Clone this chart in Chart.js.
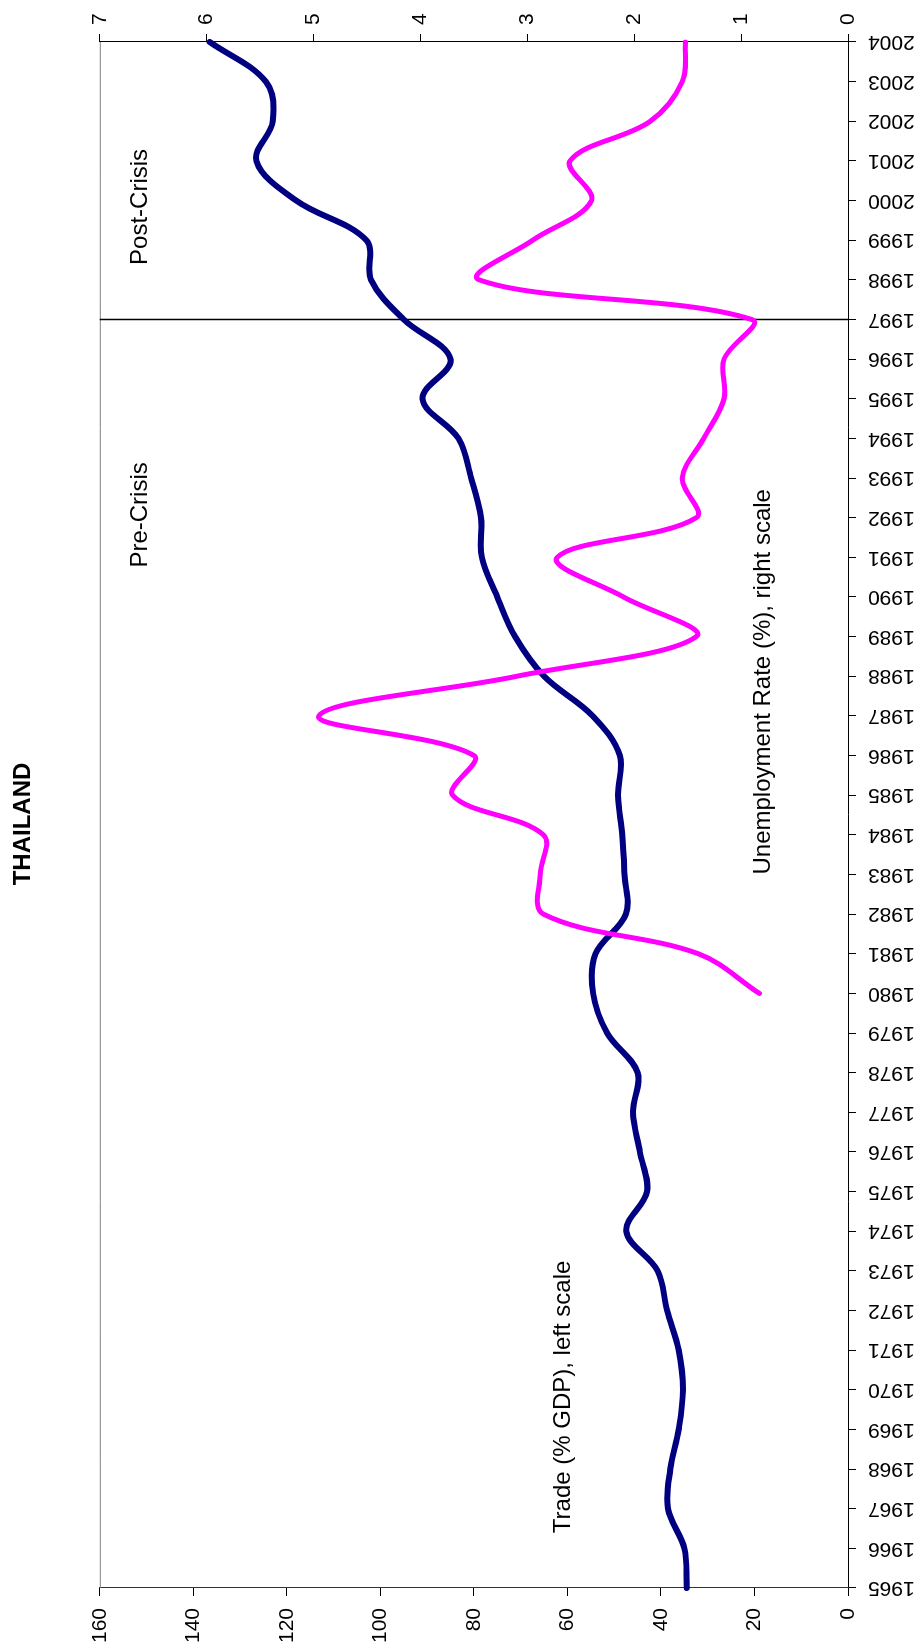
<!DOCTYPE html>
<html>
<head>
<meta charset="utf-8">
<title>Thailand: trade and unemployment</title>
<script src="https://cdn.jsdelivr.net/npm/chart.js@4.4.1/dist/chart.umd.min.js"></script>
<style>
  html, body { margin: 0; padding: 0; background: #fff; overflow: hidden; width: 921px; height: 1648px; }
  /* the chart is laid out landscape and turned a quarter turn to stand upright on the page */
  #frame {
    position: absolute; left: 0; top: 0;
    width: 1648px; height: 921px;
    transform-origin: 0 0;
    transform: translate(0, 1648px) rotate(-90deg);
  }
</style>
</head>
<body>
<div id="frame"><canvas id="chart" width="1648" height="921"></canvas></div>
<script>
// ---- data ----
const years = ['1965','1966','1967','1968','1969','1970','1971','1972','1973','1974',
               '1975','1976','1977','1978','1979','1980','1981','1982','1983','1984',
               '1985','1986','1987','1988','1989','1990','1991','1992','1993','1994',
               '1995','1996','1997','1998','1999','2000','2001','2002','2003','2004'];

// Trade, % of GDP (left scale)
const tradeShare = [34.5, 35.0, 38.5, 38.0, 36.2, 35.3, 36.2, 38.7, 40.7, 47.4,
                    43.0, 44.5, 46.0, 45.0, 51.5, 54.5, 54.0, 47.5, 47.8, 48.3,
                    49.2, 48.8, 54.6, 65.0, 71.2, 75.0, 78.3, 78.5, 80.6, 83.3,
                    91.0, 85.0, 95.0, 102.0, 103.0, 118.0, 126.5, 123.0, 124.5, 136.5];

// Unemployment rate, % (right scale); series begins in 1980
const unemploymentRate = [null, null, null, null, null, null, null, null, null, null,
                          null, null, null, null, null, 0.83, 1.40, 2.85, 2.88, 2.85,
                          3.70, 3.50, 4.95, 3.10, 1.42, 2.10, 2.72, 1.42, 1.55, 1.35,
                          1.16, 1.16, 0.90, 3.45, 2.95, 2.40, 2.60, 1.85, 1.55, 1.52];

const leftScale = { min: 0, max: 160, step: 20 };
const rightScale = { min: 0, max: 7, step: 1 };
const crisisYear = '1997';

// text placed inside the plot: year position, left-scale value for the baseline
const notes = [
  { text: 'Pre-Crisis', year: 1992.07, value: 150 },
  { text: 'Post-Crisis', year: 1999.84, value: 150 },
  { text: 'Unemployment Rate (%), right scale', year: 1987.86, value: 16.7 },
  { text: 'Trade (% GDP), left scale', year: 1969.82, value: 59.5 }
];

const FONT = "'Liberation Sans', Arial, sans-serif";

// ---- frame, crisis marker and in-plot labels ----
const decorations = {
  id: 'decorations',
  beforeDatasetsDraw(chart) {
    const { ctx, chartArea: a, scales } = chart;
    const x = scales.x;
    ctx.save();
    // upper edge of the plot area
    ctx.strokeStyle = '#808080';
    ctx.lineWidth = 1;
    ctx.beginPath();
    ctx.moveTo(a.left, a.top + 0.5);
    ctx.lineTo(a.right, a.top + 0.5);
    ctx.stroke();
    // crisis divider
    const cx = x.getPixelForValue(years.indexOf(crisisYear));
    ctx.strokeStyle = '#000';
    ctx.lineWidth = 1.5;
    ctx.beginPath();
    ctx.moveTo(cx, a.top);
    ctx.lineTo(cx, a.bottom);
    ctx.stroke();
    // labels
    ctx.fillStyle = '#000';
    ctx.font = '24px ' + FONT;
    ctx.textAlign = 'center';
    ctx.textBaseline = 'alphabetic';
    const first = Number(years[0]);
    notes.forEach(n => {
      const px = x.getPixelForValue(n.year - first);
      const py = scales.y.getPixelForValue(n.value);
      ctx.fillText(n.text, px, py);
    });
    ctx.restore();
  }
};

const tickFont = { family: FONT, size: 21 };

new Chart(document.getElementById('chart'), {
  type: 'line',
  data: {
    labels: years,
    datasets: [
      {
        label: 'Unemployment Rate (%)',
        data: unemploymentRate,
        yAxisID: 'y1',
        borderColor: '#FF00FF',
        borderWidth: 5,
        tension: 0.36,
        pointRadius: 0,
        borderCapStyle: 'round',
        borderJoinStyle: 'round',
        fill: false,
        order: 1
      },
      {
        label: 'Trade (% GDP)',
        data: tradeShare,
        yAxisID: 'y',
        borderColor: '#000080',
        borderWidth: 6,
        tension: 0.36,
        pointRadius: 0,
        borderCapStyle: 'round',
        borderJoinStyle: 'round',
        fill: false,
        order: 2
      }
    ]
  },
  options: {
    responsive: false,
    devicePixelRatio: 1,
    animation: false,
    layout: { padding: 0 },
    plugins: {
      legend: { display: false },
      tooltip: { enabled: false },
      title: {
        display: true,
        text: 'THAILAND',
        color: '#000',
        font: { family: FONT, size: 24, weight: 'bold', lineHeight: 1.2 },
        padding: { top: 9, bottom: 62 }
      }
    },
    scales: {
      x: {
        type: 'category',
        offset: false,
        grid: { drawOnChartArea: false, drawTicks: true, tickLength: 8, tickColor: '#000' },
        border: { display: true, color: '#000', width: 1 },
        ticks: {
          autoSkip: false, minRotation: 90, maxRotation: 90,
          padding: 12, color: '#000', font: tickFont
        },
        afterFit(s) { s.height = 73; }
      },
      y: {
        position: 'left',
        min: leftScale.min, max: leftScale.max,
        grid: { drawOnChartArea: false, drawTicks: true, tickLength: 8, tickColor: '#000' },
        border: { display: true, color: '#333', width: 1 },
        ticks: { stepSize: leftScale.step, padding: 12, color: '#000', font: tickFont },
        afterFit(s) { s.width = 60; }
      },
      y1: {
        position: 'right',
        min: rightScale.min, max: rightScale.max,
        grid: { drawOnChartArea: false, drawTicks: true, tickLength: 8, tickColor: '#000' },
        border: { display: true, color: '#000', width: 1 },
        ticks: { stepSize: rightScale.step, padding: 9, color: '#000', font: tickFont },
        afterFit(s) { s.width = 42; }
      }
    }
  },
  plugins: [decorations]
});
</script>
</body>
</html>
